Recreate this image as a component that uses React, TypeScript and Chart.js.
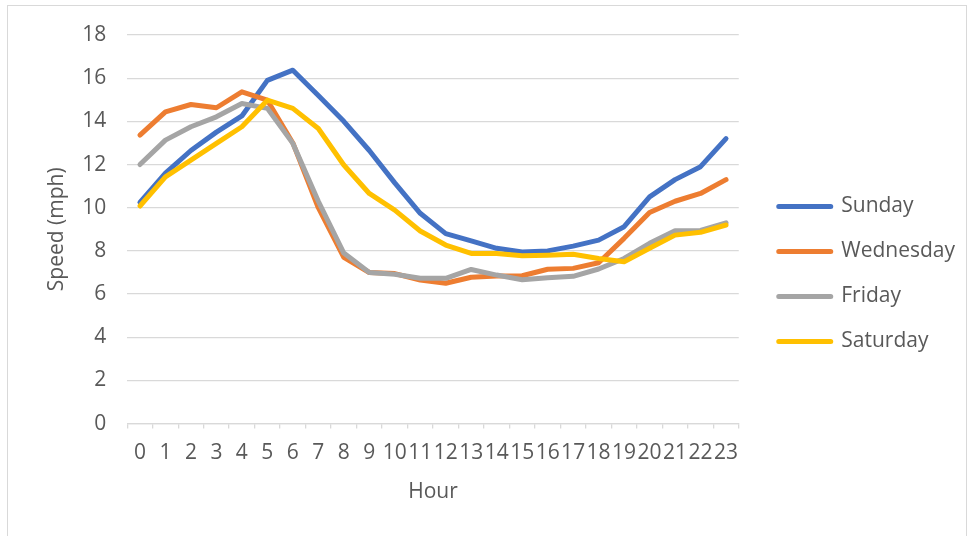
import React, { useEffect, useRef } from 'react';
import { Chart, registerables } from 'chart.js';

Chart.register(...registerables);

const hours = ['0', '1', '2', '3', '4', '5', '6', '7', '8', '9', '10', '11', '12', '13', '14', '15', '16', '17', '18', '19', '20', '21', '22', '23'];

const sunday = [10.25, 11.6, 12.65, 13.5, 14.25, 15.9, 16.37, 15.2, 14.0, 12.65, 11.15, 9.74, 8.8, 8.46, 8.12, 7.95, 8.0, 8.22, 8.5, 9.12, 10.5, 11.3, 11.9, 13.2];
const wednesday = [13.36, 14.44, 14.78, 14.63, 15.37, 14.98, 13.0, 10.0, 7.7, 7.0, 6.95, 6.65, 6.5, 6.78, 6.84, 6.85, 7.15, 7.19, 7.45, 8.58, 9.78, 10.3, 10.66, 11.3];
const friday = [12.0, 13.13, 13.75, 14.21, 14.83, 14.6, 12.98, 10.3, 7.9, 7.0, 6.92, 6.73, 6.73, 7.14, 6.88, 6.66, 6.76, 6.82, 7.16, 7.65, 8.35, 8.93, 8.95, 9.3];
const saturday = [10.08, 11.43, 12.2, 12.98, 13.75, 14.98, 14.6, 13.67, 11.98, 10.66, 9.89, 8.92, 8.27, 7.88, 7.88, 7.78, 7.8, 7.84, 7.65, 7.5, 8.12, 8.73, 8.86, 9.2];

const seriesNames = ['Sunday', 'Wednesday', 'Friday', 'Saturday'];
const seriesColors = ['#4472C4', '#ED7D31', '#A5A5A5', '#FFC000'];
const seriesValues = [sunday, wednesday, friday, saturday];

const yAxisTitle = 'Speed (mph)';
const xAxisTitle = 'Hour';

const FONT = 'Open Sans';
const TEXT = '#595959';
const GRID = '#D9D9D9';

const legendShift = {
  id: 'legendShift',
  afterLayout(chart: any) {
    const l = chart.legend;
    if (l) {
      l.left += 16;
      l.right += 16;
    }
  },
};

export default function App() {
  const ref = useRef<HTMLCanvasElement | null>(null);

  useEffect(() => {
    if (!ref.current) return;
    Chart.defaults.font.family = FONT;
    const chart = new Chart(ref.current, {
      type: 'line',
      data: {
        labels: hours,
        datasets: seriesNames.map((name, i) => ({
          label: name,
          data: seriesValues[i],
          borderColor: seriesColors[i],
          backgroundColor: seriesColors[i],
          borderWidth: 5,
          pointRadius: 0,
          pointHoverRadius: 0,
          tension: 0,
          borderJoinStyle: 'round' as const,
          borderCapStyle: 'round' as const,
          order: seriesNames.length - i,
        })),
      },
      options: {
        animation: false,
        responsive: true,
        maintainAspectRatio: false,
        layout: { padding: { top: 35, bottom: 23, left: 44, right: 20 } },
        plugins: {
          legend: {
            position: 'right',
            labels: {
              font: { family: FONT, size: 21 },
              color: TEXT,
              boxWidth: 52,
              boxHeight: 0,
              padding: 24,
              sort: (a: any, b: any) => a.datasetIndex - b.datasetIndex,
            },
          },
          tooltip: { enabled: false },
        },
        scales: {
          x: {
            offset: true,
            afterFit: (scale: any) => {
              scale.height -= 12;
            },
            grid: {
              display: true,
              offset: true,
              drawOnChartArea: false,
              drawTicks: true,
              tickLength: 5,
              color: GRID,
              lineWidth: 1.3,
            },
            border: { display: true, color: GRID, width: 1.3 },
            ticks: {
              autoSkip: false,
              maxRotation: 0,
              minRotation: 0,
              padding: 12,
              color: TEXT,
              font: { family: FONT, size: 21 },
            },
            title: {
              display: true,
              text: xAxisTitle,
              color: TEXT,
              font: { family: FONT, size: 21 },
              padding: { top: 14, bottom: 8 },
            },
          },
          y: {
            min: 0,
            max: 18,
            afterFit: (scale: any) => {
              scale.width -= 21;
            },
            ticks: {
              stepSize: 2,
              padding: 21,
              color: TEXT,
              font: { family: FONT, size: 21 },
            },
            grid: { color: GRID, lineWidth: 1.3, drawTicks: false },
            border: { display: false },
            title: {
              display: true,
              text: yAxisTitle,
              color: TEXT,
              font: { family: FONT, size: 21 },
              padding: { top: 0, bottom: 13 },
            },
          },
        },
      },
      plugins: [legendShift],
    });
    return () => chart.destroy();
  }, []);

  return (
    <div style={{ position: 'fixed', left: 0, top: 0, width: 969, height: 536, background: '#fff', overflow: 'hidden' }}>
      <div style={{ position: 'absolute', left: 7, top: 5, width: 960, height: 600, border: '1.5px solid #D9D9D9', boxSizing: 'border-box' }} />
      <div style={{ position: 'absolute', left: 0, top: 0, width: 969, height: 536 }}>
        <canvas ref={ref} />
      </div>
    </div>
  );
}
